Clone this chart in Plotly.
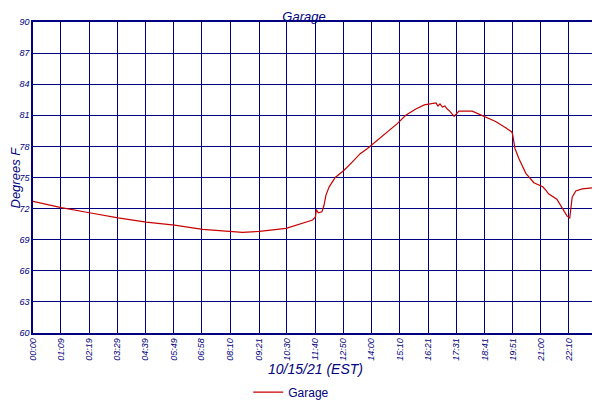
import pandas as pd
import plotly.graph_objects as go

# garage temperature readings, 10/15/21
times = ["00:00", "01:10", "02:20", "03:31", "04:41", "05:51", "07:01", "08:12",
         "08:40", "09:22", "10:28", "11:34", "11:41", "11:43", "11:48", "11:57",
         "12:02", "12:07", "12:15", "12:30", "12:52", "13:15", "13:32", "13:50",
         "14:15", "14:40", "15:04", "15:25", "15:50", "16:11", "16:27", "16:40",
         "16:45", "16:50", "16:56", "17:02", "17:08", "17:14", "17:25", "17:37",
         "18:10", "18:39", "19:08", "19:33", "19:48", "19:50", "19:56", "20:06",
         "20:23", "20:43", "20:56", "21:05", "21:12", "21:20", "21:40", "21:50",
         "22:05", "22:12", "22:15", "22:18", "22:27", "22:43", "23:08", "23:22"]
temps = [72.7, 72.1, 71.6, 71.1, 70.7, 70.4, 70.0, 69.8,
         69.7, 69.8, 70.1, 70.9, 71.2, 71.9, 71.6, 71.7,
         72.3, 73.3, 74.1, 75.0, 75.7, 76.6, 77.3, 77.8,
         78.6, 79.4, 80.2, 81.0, 81.6, 82.0, 82.1, 82.2,
         81.9, 82.1, 81.8, 81.9, 81.6, 81.4, 80.9, 81.4,
         81.4, 80.9, 80.4, 79.8, 79.4, 79.2, 77.8, 76.8,
         75.4, 74.5, 74.3, 74.1, 73.8, 73.4, 72.9, 72.3,
         71.3, 71.1, 72.0, 73.1, 73.7, 73.9, 74.0, 74.0]

tick_labels = ["00:00", "01:09", "02:19", "03:29", "04:39", "05:49", "06:58",
               "08:10", "09:21", "10:30", "11:40", "12:50", "14:00", "15:10",
               "16:21", "17:31", "18:41", "19:51", "21:00", "22:10", "23:22"]
y_ticks = [60, 63, 66, 69, 72, 75, 78, 81, 84, 87, 90]

day = "2021-10-15 "
df = pd.DataFrame({"time": pd.to_datetime([day + t for t in times]), "temp": temps})
tick_vals = pd.to_datetime([day + t for t in tick_labels])

navy = "#000080"
font_family = "Liberation Sans, Arial, sans-serif"

fig = go.Figure()
fig.add_trace(go.Scatter(x=df["time"], y=df["temp"], mode="lines", name="Garage",
                         line=dict(color="#c80000", width=1.2)))

# page body has an 8px margin, so the figure is a bit smaller than the window
fig.update_layout(
    width=592, height=392,
    margin=dict(l=25, r=2, t=14, b=67, autoexpand=False),
    paper_bgcolor="white", plot_bgcolor="white",
    title=dict(text="<i>Garage</i>", x=0.5, xanchor="center", y=0.99, yanchor="top",
               pad=dict(t=0, b=0), font=dict(family=font_family, size=13, color=navy)),
    showlegend=True,
    legend=dict(orientation="h", x=0.457, xanchor="center", y=-0.19, yanchor="middle",
                font=dict(family=font_family, size=12, color=navy)),
    font=dict(family=font_family, color=navy),
)
# y axis title as an annotation so it can sit right at the left edge
fig.add_annotation(text="<i>Degrees F</i>", textangle=-90, showarrow=False,
                   xref="paper", yref="paper", x=-18 / 565, xanchor="center", y=0.5,
                   font=dict(family=font_family, size=13, color=navy))
fig.update_xaxes(
    range=[tick_vals[0], tick_vals[-1] + pd.Timedelta(seconds=5)],
    tickvals=tick_vals, ticktext=[f"<i>{t}</i>" for t in tick_labels],
    tickangle=-90, tickfont=dict(size=9, color=navy), ticklabeloverflow="allow",
    showgrid=True, gridcolor=navy, gridwidth=1,
    showline=True, linecolor=navy, linewidth=1.5, mirror=True,
    ticks="", zeroline=False, automargin=False,
    title=dict(text="<i>10/15/21 (EST)</i>", font=dict(size=14, color=navy), standoff=2),
)
fig.update_yaxes(
    range=[60, 90], tickvals=y_ticks, ticktext=[f"<i>{v}</i>" for v in y_ticks],
    tickfont=dict(size=9, color=navy),
    showgrid=True, gridcolor=navy, gridwidth=1,
    showline=True, linecolor=navy, linewidth=1.5, mirror=True,
    ticks="", zeroline=False, automargin=False,
)

fig.write_html("out.html")
